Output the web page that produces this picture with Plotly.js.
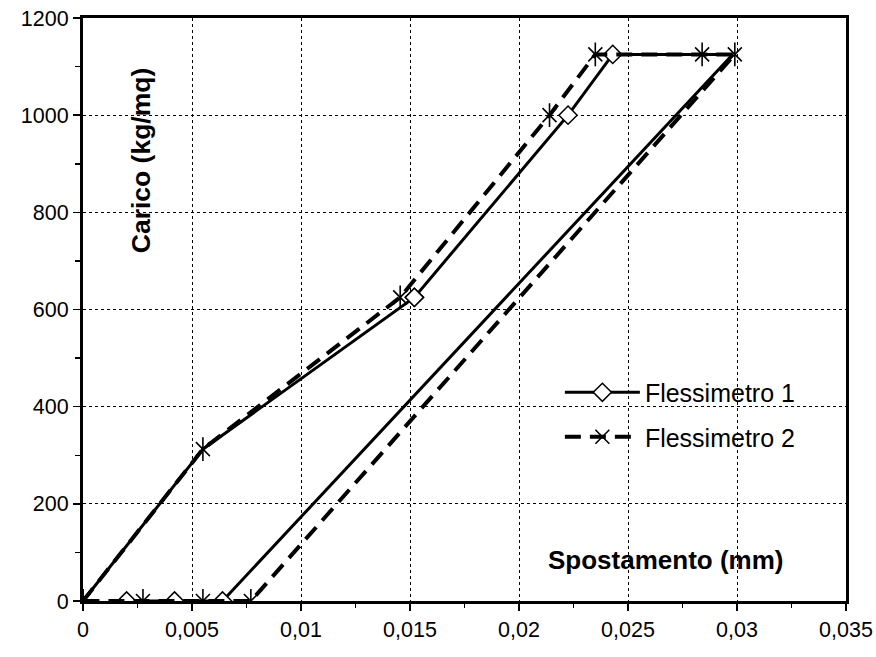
<!DOCTYPE html>
<html>
<head>
<meta charset="utf-8">
<script src="https://cdn.plot.ly/plotly-3.0.1.min.js"></script>
<style>html,body{margin:0;padding:0;background:#fff;}#chart{width:876px;height:657px;}</style>
</head>
<body>
<div id="chart"></div>
<script>
// Flessimetro 1 (solid line, diamonds)
const fless1X = [0, 0.0055, 0.0152, 0.02225, 0.0243, 0.0298, 0.0064, 0.0042, 0.0020];
const fless1Y = [0, 312.5, 625, 1000, 1125, 1125, 0, 0, 0];
// Flessimetro 2 (dashed line, asterisks)
const fless2X = [0, 0.0055, 0.01455, 0.0214, 0.0235, 0.0284, 0.0299, 0.0077, 0.0055, 0.00275, 0];
const fless2Y = [0, 312.5, 625, 1000, 1125, 1125, 1125, 0, 0, 0, 0];
const seriesNames = ["Flessimetro 1", "Flessimetro 2"];
const xTitle = "Spostamento (mm)";
const yTitle = "Carico (kg/mq)";

// indices of Flessimetro 1 points whose diamond is visible in the reference
const diamondShown = [2, 3, 4, 6, 7, 8];

const font = "Liberation Sans, Arial, sans-serif";
const diamond = {symbol: "diamond", size: 14, color: "#fff", line: {color: "#000", width: 1.5}};
const d1X = diamondShown.map(i => fless1X[i]);
const d1Y = diamondShown.map(i => fless1Y[i]);

const traces = [
  {
    x: fless1X, y: fless1Y, type: "scatter", mode: "lines", showlegend: false,
    legendgroup: "a", line: {color: "#000", width: 3}
  },
  {
    x: d1X, y: d1Y, type: "scatter", mode: "markers", showlegend: false,
    legendgroup: "a", marker: diamond
  },
  {
    // legend entry for Flessimetro 1: one point that repeats an existing diamond
    x: d1X.slice(0, 1), y: d1Y.slice(0, 1), name: seriesNames[0], type: "scatter",
    mode: "lines+markers", legendgroup: "a",
    line: {color: "#000", width: 3}, marker: diamond
  },
  {
    x: fless2X, y: fless2Y, name: seriesNames[1], type: "scatter", mode: "lines+markers",
    legendgroup: "b",
    line: {color: "#000", width: 4, dash: "16px,9px"},
    marker: {symbol: "x-thin-open", size: 14, color: "#000", line: {color: "#000", width: 1.6}}
  },
  {
    x: fless2X, y: fless2Y, name: seriesNames[1], type: "scatter", mode: "markers",
    legendgroup: "b", showlegend: false,
    marker: {symbol: "line-ns-open", size: 17, color: "#000", line: {color: "#000", width: 1.6}}
  }
];

const layout = {
  width: 876, height: 657,
  margin: {l: 83, r: 30, t: 18, b: 56},
  paper_bgcolor: "#fff", plot_bgcolor: "#fff",
  separators: ",.",
  font: {family: font, size: 21, color: "#000"},
  showlegend: true,
  legend: {
    x: 0.625, y: 0.397, xanchor: "left", yanchor: "top",
    bgcolor: "rgba(0,0,0,0)", borderwidth: 0,
    font: {family: font, size: 25, color: "#000"},
    itemwidth: 75, tracegroupgap: 9, traceorder: "grouped"
  },
  xaxis: {
    range: [0, 0.035], dtick: 0.005, tick0: 0,
    showline: true, linecolor: "#000", linewidth: 3, mirror: true,
    ticks: "outside", ticklen: 7, tickwidth: 1.5, tickcolor: "#000",
    minor: {dtick: 0.0025, ticks: "outside", ticklen: 4, tickwidth: 1, tickcolor: "#000", showgrid: false},
    showgrid: true, gridcolor: "#000", gridwidth: 1, griddash: "dot",
    zeroline: false, tickfont: {family: font, size: 21.5, color: "#000"}
  },
  yaxis: {
    range: [0, 1200], dtick: 200, tick0: 0,
    showline: true, linecolor: "#000", linewidth: 3, mirror: true,
    ticks: "outside", ticklen: 7, tickwidth: 1.5, tickcolor: "#000",
    minor: {dtick: 100, ticks: "outside", ticklen: 5, tickwidth: 1.5, tickcolor: "#000", showgrid: false},
    showgrid: true, gridcolor: "#000", gridwidth: 1, griddash: "dot",
    zeroline: false, tickfont: {family: font, size: 21.5, color: "#000"}
  },
  annotations: [
    {text: "<b>" + yTitle + "</b>", xref: "paper", yref: "paper", x: 0.076, y: 0.756,
     xanchor: "center", yanchor: "middle",
     textangle: -90, showarrow: false, font: {family: font, size: 26.5, color: "#000"}},
    {text: "<b>" + xTitle + "</b>", xref: "paper", yref: "paper", x: 0.763, y: 0.070,
     xanchor: "center", yanchor: "middle",
     showarrow: false, font: {family: font, size: 26, color: "#000"}}
  ]
};

Plotly.newPlot("chart", traces, layout, {displayModeBar: false, staticPlot: true});
</script>
</body>
</html>
